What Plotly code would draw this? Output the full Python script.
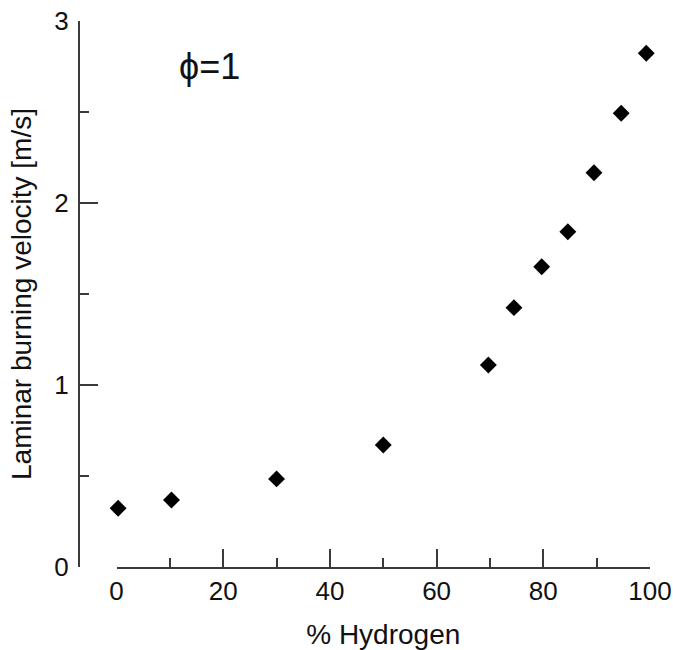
import plotly.graph_objects as go

hydrogen_pct = [0.3, 10.3, 30.0, 50.0, 69.7, 74.5, 79.7, 84.6, 89.5, 94.6, 99.3]
burning_velocity = [0.323, 0.368, 0.484, 0.670, 1.110, 1.425, 1.650, 1.842, 2.166, 2.493, 2.823]

x_tickvals = [0, 20, 40, 60, 80, 100]
y_tickvals = [0, 1, 2, 3]

axis_color = "#3a3a3a"
text_color = "#111111"
font_family = "Liberation Sans, Arial, sans-serif"

fig = go.Figure()
fig.add_trace(go.Scatter(
    x=hydrogen_pct, y=burning_velocity, mode="markers",
    marker=dict(symbol="diamond", size=13, color="black"),
    cliponaxis=False, showlegend=False,
))

fig.update_layout(
    width=673, height=650,
    margin=dict(l=79, r=23, t=21, b=83),
    paper_bgcolor="white", plot_bgcolor="white",
    font=dict(family=font_family, color=text_color),
    xaxis=dict(
        domain=[0.0657, 1.0], range=[0, 100], automargin=False,
        showgrid=False, zeroline=False,
        showline=True, linecolor=axis_color, linewidth=2,
        ticks="inside", ticklen=18, tickwidth=2, tickcolor=axis_color,
        tickvals=x_tickvals, tickfont=dict(size=26),
        ticklabelstandoff=0,
        minor=dict(ticks="inside", ticklen=9, tickwidth=2, tickcolor=axis_color, dtick=10, showgrid=False),
        title=dict(text="% Hydrogen", font=dict(size=28), standoff=20),
    ),
    yaxis=dict(
        anchor="free", position=0, range=[0, 3], automargin=False,
        showgrid=False, zeroline=False,
        showline=True, linecolor=axis_color, linewidth=2,
        ticks="inside", ticklen=18, tickwidth=2, tickcolor=axis_color,
        tickvals=y_tickvals, tickfont=dict(size=26),
        ticklabelstandoff=4,
        minor=dict(ticks="inside", ticklen=9, tickwidth=2, tickcolor=axis_color, dtick=0.5, showgrid=False),
        title=dict(text="Laminar burning velocity [m/s]", font=dict(size=28), standoff=14),
    ),
    annotations=[dict(
        x=17.5, y=2.75, xref="x", yref="y", text="ϕ=1", showarrow=False,
        font=dict(size=36, color=text_color),
    )],
)

fig.write_html("out.html")
